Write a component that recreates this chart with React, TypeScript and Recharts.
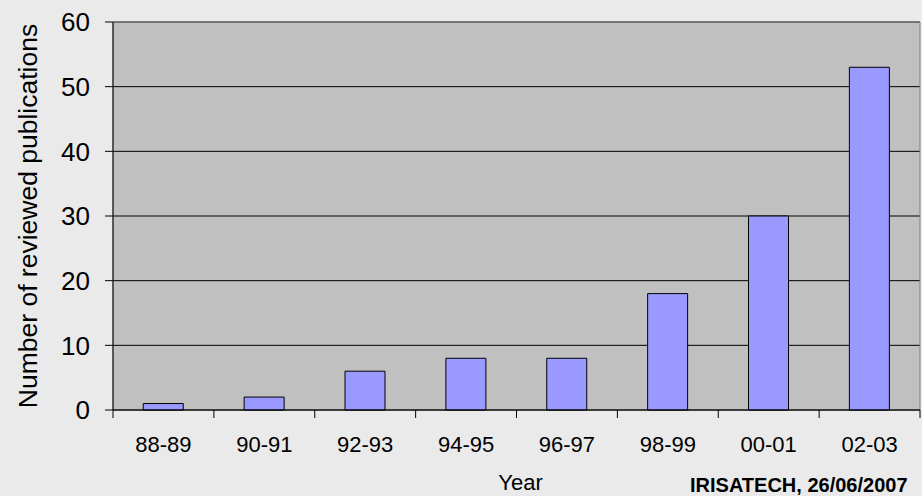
import { BarChart, Bar, XAxis, YAxis, CartesianGrid, ReferenceArea } from 'recharts';

const years = ['88-89', '90-91', '92-93', '94-95', '96-97', '98-99', '00-01', '02-03'];
const publications = [1, 2, 6, 8, 8, 18, 30, 53];
const yTicks = [0, 10, 20, 30, 40, 50, 60];

const data = years.map((year, i) => ({ year, count: publications[i] }));

const FONT = '"Liberation Sans", Arial, sans-serif';

function YearTick(props: any) {
  const { x, y, payload, index } = props;
  const half = payload?.offset ?? 50;
  const last = index === years.length - 1;
  return (
    <g>
      <line x1={x - half} y1={y} x2={x - half} y2={y + 8} stroke="#000" />
      {last && <line x1={x + half} y1={y} x2={x + half} y2={y + 8} stroke="#000" />}
      <text x={x} y={y + 42} textAnchor="middle" fontSize={22} fill="#000" fontFamily={FONT}>
        {payload.value}
      </text>
    </g>
  );
}

export default function App() {
  return (
    <div style={{ position: 'fixed', left: 0, top: 0, width: 922, height: 496, background: '#EAEAEA', fontFamily: FONT }}>
      <BarChart
        width={922}
        height={496}
        data={data}
        margin={{ top: 22, right: 2, bottom: 0, left: 0 }}
        barCategoryGap="30%"
      >
        <CartesianGrid fill="#C0C0C0" stroke="#000" vertical={false} />
        <XAxis
          dataKey="year"
          height={86}
          axisLine={{ stroke: '#000' }}
          tickLine={false}
          tickSize={0}
          tickMargin={0}
          tick={<YearTick />}
          interval={0}
          label={{ value: 'Year', position: 'insideBottom', offset: 6, dx: 4, fontSize: 22, fill: '#000', fontFamily: FONT }}
        />
        <YAxis
          width={113}
          domain={[0, 60]}
          ticks={yTicks}
          axisLine={{ stroke: '#000' }}
          tickLine={{ stroke: '#000' }}
          tickSize={8}
          tickMargin={15}
          tick={{ fontSize: 26, fill: '#000', fontFamily: FONT }}
          label={{ value: 'Number of reviewed publications', angle: -90, position: 'center', dx: -29, fontSize: 26.5, fill: '#000', fontFamily: FONT }}
        />
        <ReferenceArea y1={0} y2={60} fill="none" stroke="#808080" ifOverflow="visible" />
        <Bar dataKey="count" fill="#9999FF" stroke="#000" strokeWidth={1} isAnimationActive={false} />
      </BarChart>
      <div
        style={{
          position: 'absolute',
          left: 690,
          top: 475,
          fontSize: 20,
          fontWeight: 'bold',
          lineHeight: '20px',
          whiteSpace: 'nowrap',
          color: '#000',
        }}
      >
        IRISATECH, 26/06/2007
      </div>
    </div>
  );
}
